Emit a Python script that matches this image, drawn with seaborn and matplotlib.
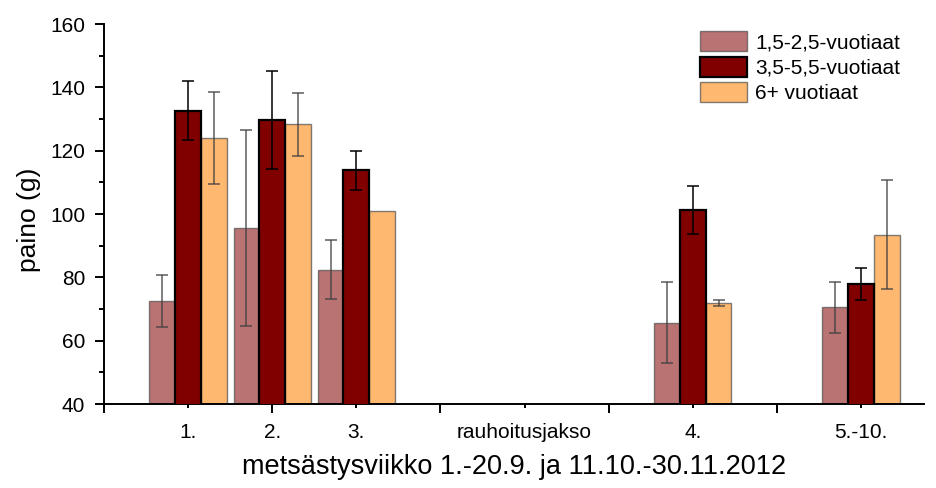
import numpy as np
import pandas as pd
import matplotlib
matplotlib.use("Agg")
import matplotlib.pyplot as plt
import seaborn as sns
from matplotlib.ticker import MultipleLocator

# ---- data ----
categories = ["1.", "2.", "3.", "4.", "5.-10."]
cat_pos = [1, 2, 3, 7, 9]
series = ["1,5-2,5-vuotiaat", "3,5-5,5-vuotiaat", "6+ vuotiaat"]
young = [72.5, 95.5, 82.4, 65.7, 70.5]
young_err = [8.3, 31.0, 9.3, 12.7, 8.0]
mid = [132.6, 129.7, 113.8, 101.2, 77.8]
mid_err = [9.3, 15.4, 6.1, 7.5, 5.0]
old = [124.0, 128.3, 100.9, 72.0, 93.5]
old_err = [14.6, 10.0, np.nan, 0.9, 17.3]

tick_major = [0, 2, 4, 6, 8]
tick_major_labels = ["", "2.", "", "", ""]
tick_minor = [1, 3, 5, 7, 9]
tick_minor_labels = ["1.", "3.", "rauhoitusjakso", "4.", "5.-10."]

colors = ["#BA7373", "#800000", "#FFB870"]

df = pd.DataFrame({
    "pos": cat_pos * 3,
    "value": young + mid + old,
    "series": [series[0]] * 5 + [series[1]] * 5 + [series[2]] * 5,
})
errs = [young_err, mid_err, old_err]

sns.set_style("ticks")
plt.rcParams["font.family"] = ["Liberation Sans", "DejaVu Sans"]
plt.rcParams["text.color"] = "black"
plt.rcParams["axes.labelcolor"] = "black"
plt.rcParams["xtick.color"] = "black"
plt.rcParams["ytick.color"] = "black"

fig = plt.figure(figsize=(9.36, 4.88), dpi=100)
ax = fig.add_axes([104 / 936, 1 - 404 / 488, 820 / 936, 380 / 488])

sns.barplot(data=df, x="pos", y="value", hue="series", native_scale=True,
            palette=colors, width=0.92, gap=0, ax=ax, errorbar=None,
            legend=True, saturation=1)

bar_conts = list(ax.containers)
for i, cont in enumerate(bar_conts):
    xs = [p.get_x() + p.get_width() / 2 for p in cont.patches]
    for p in cont.patches:
        if i == 1:
            p.set_edgecolor("black")
            p.set_linewidth(1.6)
            p.set_zorder(3)
        else:
            p.set_edgecolor((0.3, 0.3, 0.3, 0.7))
            p.set_linewidth(1.0)
            p.set_zorder(2)
    vals = [young, mid, old][i]
    ecol = "black" if i == 1 else (0.25, 0.25, 0.25, 0.85)
    ax.errorbar(xs, vals, yerr=errs[i], fmt="none", ecolor=ecol,
                elinewidth=1.1, capsize=4.2, capthick=1.1, zorder=4)

ax.set_xlim(0, 9.75)
ax.set_ylim(40, 160)
ax.yaxis.set_major_locator(MultipleLocator(20))
ax.yaxis.set_minor_locator(MultipleLocator(10))
ax.set_xticks(tick_major, tick_major_labels)
ax.set_xticks(tick_minor, tick_minor_labels, minor=True)

sns.despine(ax=ax)
for s in ["left", "bottom"]:
    ax.spines[s].set_linewidth(1.4)
    ax.spines[s].set_color("black")

ax.tick_params(axis="both", which="major", direction="out", length=6.5,
               width=1.4, color="black", labelsize=15, labelcolor="black")
ax.tick_params(axis="y", which="minor", direction="out", length=3.5,
               width=1.4, color="black")
ax.tick_params(axis="y", which="major", pad=7)
ax.tick_params(axis="x", which="major", pad=7)
ax.tick_params(axis="x", which="minor", direction="out", length=3,
               width=1.4, color="black", labelsize=15, labelcolor="black",
               pad=10.5)

ax.set_xlabel("metsästysviikko 1.-20.9. ja 11.10.-30.11.2012", fontsize=19.5,
              labelpad=9, color="black")
ax.set_ylabel("paino (g)", fontsize=19, color="black")
ax.yaxis.set_label_coords(-0.0768, (404 - 220) / 380)

handles, labels = ax.get_legend_handles_labels()
leg = ax.legend(handles, series, loc="upper left",
                bbox_to_anchor=(700 / 936, 1 - 31 / 488),
                bbox_transform=fig.transFigure, frameon=False,
                fontsize=15, handlelength=2.25, handleheight=1.1,
                handletextpad=0.4, labelspacing=0.22, borderpad=0,
                borderaxespad=0)
for t in leg.get_texts():
    t.set_color("black")
for i, h in enumerate(leg.legend_handles):
    if i == 1:
        h.set_edgecolor("black")
        h.set_linewidth(1.6)
    else:
        h.set_edgecolor((0.3, 0.3, 0.3, 0.7))
        h.set_linewidth(1.0)

fig.savefig("out.png", dpi=100)
